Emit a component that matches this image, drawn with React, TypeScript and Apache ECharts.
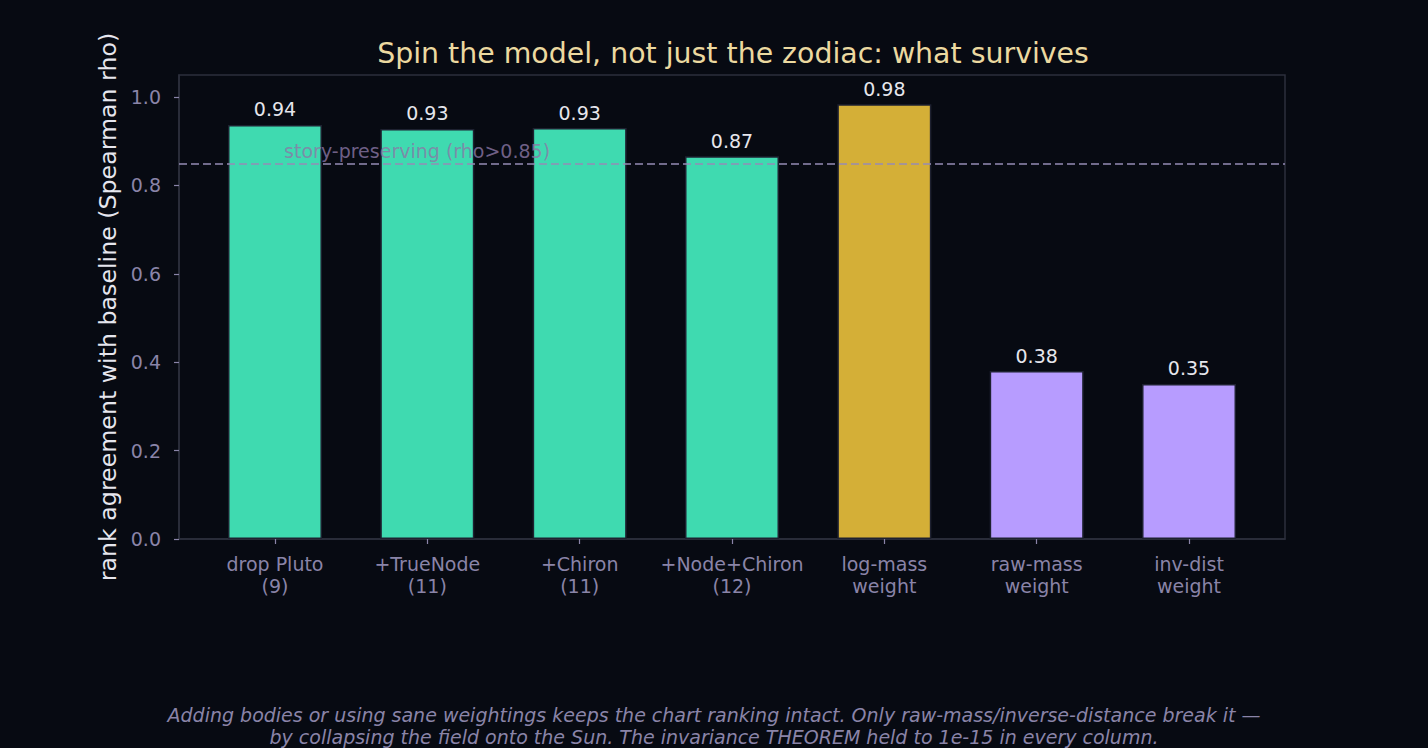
import React, { useEffect, useRef } from 'react';
import * as echarts from 'echarts';

const categories = [
  'drop Pluto\n(9)',
  '+TrueNode\n(11)',
  '+Chiron\n(11)',
  '+Node+Chiron\n(12)',
  'log-mass\nweight',
  'raw-mass\nweight',
  'inv-dist\nweight',
];
const rhoValues = [0.937, 0.928, 0.93, 0.866, 0.984, 0.38, 0.351];
const valueLabels = ['0.94', '0.93', '0.93', '0.87', '0.98', '0.38', '0.35'];
const barGroups = ['model', 'model', 'model', 'model', 'sane', 'broken', 'broken'];
const threshold = 0.85;
const yTicks = [0, 0.2, 0.4, 0.6, 0.8, 1.0];
const footerLines = [
  'Adding bodies or using sane weightings keeps the chart ranking intact. Only raw-mass/inverse-distance break it —',
  'by collapsing the field onto the Sun. The invariance THEOREM held to 1e-15 in every column.',
];

const GROUP_COLORS: Record<string, string> = {
  model: '#3fdab0',
  sane: '#d4af37',
  broken: '#b79cff',
};

const BG = '#070a12';
const FRAME = '#2c2f3c';
const MUTED = '#8a84a8';
const FONT = '"DejaVu Sans", sans-serif';
const FS = 19;

export default function App() {
  const chartRef = useRef<HTMLDivElement>(null);

  useEffect(() => {
    if (!chartRef.current) return;
    const chart = echarts.init(chartRef.current, null, { renderer: 'svg' });

    const barData = rhoValues.map((v, i) => ({
      value: [i, v],
      itemStyle: { color: GROUP_COLORS[barGroups[i]] },
      label: { formatter: valueLabels[i] },
    }));

    const option: echarts.EChartsOption = {
      animation: false,
      backgroundColor: BG,
      textStyle: { fontFamily: FONT },
      title: {
        text: 'Spin the model, not just the zodiac: what survives',
        left: 728,
        top: 34,
        textAlign: 'center',
        textStyle: { color: '#ecd9a0', fontSize: 28.4, fontWeight: 'normal', fontFamily: FONT },
      },
      grid: {
        left: 179,
        right: 143,
        top: 75,
        bottom: 209,
        show: true,
        borderColor: FRAME,
        borderWidth: 1.5,
        backgroundColor: BG,
      },
      xAxis: {
        type: 'value',
        min: -0.63,
        max: 6.63,
        splitLine: { show: false },
        axisLine: { show: true, onZero: false, lineStyle: { color: FRAME, width: 1.5 } },
        axisTick: {
          show: true,
          length: 5,
          customValues: categories.map((_, i) => i),
          lineStyle: { color: MUTED, width: 1.2 },
        },
        axisLabel: {
          customValues: categories.map((_, i) => i),
          formatter: (v: number) => categories[Math.round(v)] ?? '',
          color: MUTED,
          fontSize: FS,
          lineHeight: 22,
          margin: 14,
          fontFamily: FONT,
        },
      },
      yAxis: {
        type: 'value',
        min: 0,
        max: 1.05,
        name: 'rank agreement with baseline (Spearman rho)',
        nameLocation: 'middle',
        nameGap: 58,
        nameTextStyle: { color: '#e6e6ee', fontSize: 23.7, fontFamily: FONT },
        splitLine: { show: false },
        axisLine: { show: true, onZero: false, lineStyle: { color: FRAME, width: 1.5 } },
        axisTick: {
          show: true,
          length: 5,
          customValues: yTicks,
          lineStyle: { color: MUTED, width: 1.2 },
        },
        axisLabel: {
          customValues: yTicks,
          formatter: (v: number) => v.toFixed(1),
          color: MUTED,
          fontSize: FS,
          margin: 18,
          fontFamily: FONT,
        },
      },
      series: [
        {
          type: 'bar',
          data: barData,
          barWidth: 94,
          itemStyle: { borderColor: '#1e2130', borderWidth: 1.5 },
          label: {
            show: true,
            position: 'top',
            distance: 6,
            color: '#e6e6ec',
            fontSize: FS,
            fontFamily: FONT,
          },
          markLine: {
            silent: true,
            symbol: 'none',
            label: { show: false },
            lineStyle: { color: '#958cb5', type: [8, 4], width: 1.5 },
            data: [{ yAxis: threshold }],
          },
        },
        {
          type: 'scatter',
          silent: true,
          symbolSize: 0,
          z: 5,
          data: [[0.06, threshold + 0.01]],
          label: {
            show: true,
            formatter: 'story-preserving (rho>0.85)',
            position: 'right',
            distance: 0,
            offset: [0, -8],
            color: '#8b78a6',
            fontSize: FS,
            fontFamily: FONT,
          },
        },
      ],
      graphic: footerLines.map((line, i) => ({
        type: 'text',
        left: 'center',
        top: 705 + i * 22,
        style: {
          text: line,
          fill: MUTED,
          font: `italic ${FS}px ${FONT}`,
        },
      })),
    };

    chart.setOption(option);
    return () => chart.dispose();
  }, []);

  return (
    <div
      ref={chartRef}
      style={{ position: 'fixed', left: 0, top: 0, width: 1428, height: 748 }}
    />
  );
}
